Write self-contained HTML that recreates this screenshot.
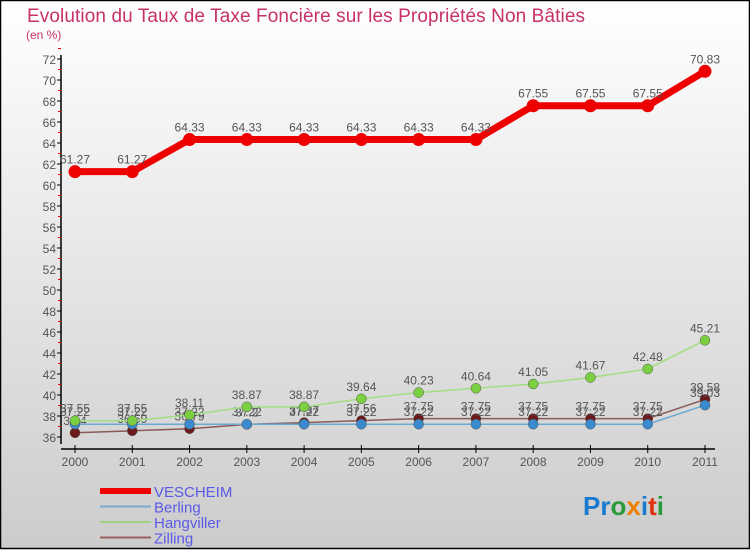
<!DOCTYPE html>
<html><head><meta charset="utf-8"><style>
body{margin:0;width:750px;height:550px;overflow:hidden}
svg{display:block;font-family:"Liberation Sans",sans-serif}
</style></head><body>
<svg id="c" width="750" height="550">
<defs><linearGradient id="bg" x1="0" y1="0" x2="0" y2="1"><stop offset="0" stop-color="#ffffff"/><stop offset="1" stop-color="#cccccc"/></linearGradient></defs>
<rect x="0.5" y="0.5" width="749" height="548" fill="url(#bg)" stroke="#000" stroke-width="1.5"/>
<text x="27" y="22" font-size="19" textLength="558" fill="#c8306a">Evolution du Taux de Taxe Foncière sur les Propriétés Non Bâties</text>
<text x="26" y="39" font-size="12" fill="#c8306a">(en %)</text>
<g id="axes"></g><g id="series"></g><g id="legend"></g>
<text x="583" y="515" font-size="26" font-weight="bold"><tspan fill="#1a7ad0">Pr</tspan><tspan fill="#2a9a3a">o</tspan><tspan fill="#f08000">x</tspan><tspan fill="#1a7ad0">i</tspan><tspan fill="#e03010">t</tspan><tspan fill="#2a9a3a">i</tspan></text>
</svg>
<script>
const years=["2000","2001","2002","2003","2004","2005","2006","2007","2008","2009","2010","2011"];
const vescheim=[61.27,61.27,64.33,64.33,64.33,64.33,64.33,64.33,67.55,67.55,67.55,70.83];
const berling=[37.22,37.22,37.22,37.22,37.22,37.22,37.22,37.22,37.22,37.22,37.22,39.03];
const hangviller=[37.55,37.55,38.11,38.87,38.87,39.64,40.23,40.64,41.05,41.67,42.48,45.21];
const zilling=[36.4,36.59,36.79,37.2,37.37,37.56,37.75,37.75,37.75,37.75,37.75,39.58];
const yTicks=[36,38,40,42,44,46,48,50,52,54,56,58,60,62,64,66,68,70,72];
const NS="http://www.w3.org/2000/svg";
const X=i=>75+i*(705-75)/(years.length-1);
const Y=v=>437-(v-36)*10.5;
function mk(t,a,p){const e=document.createElementNS(NS,t);for(const k in a)e.setAttribute(k,a[k]);p.appendChild(e);return e;}
const ax=document.getElementById('axes');
const ya=mk('line',{x1:61,y1:55,x2:61,y2:444,stroke:'#000','stroke-width':1.5},ax);


const xa=mk('line',{x1:61,y1:449,x2:715,y2:449,stroke:'#000','stroke-width':1.5},ax);


yTicks.forEach(v=>{
 mk('line',{x1:57,y1:Y(v),x2:61,y2:Y(v),stroke:'#000'},ax);
 mk('line',{x1:58,y1:Y(v+1),x2:61,y2:Y(v+1),stroke:'#e00'},ax);
 const t=mk('text',{x:56,y:Y(v)+5,'font-size':12,fill:'#555','text-anchor':'end'},ax);t.textContent=v;
 
 
});
years.forEach((y,i)=>{
 mk('line',{x1:X(i),y1:445,x2:X(i),y2:453,stroke:'#000'},ax);
 const t=mk('text',{x:X(i),y:466,'font-size':12,fill:'#555','text-anchor':'middle'},ax);t.textContent=y;
 
 
});
const S=document.getElementById('series');
const defs=[[zilling,'#6a1a1a','#8a5a5a',1.5,5,'zilling'],[berling,'#3a8ad0','#6aaad0',1.5,5,'berling'],[hangviller,'#7ad040','#a0e080',1.5,5,'hangviller'],[vescheim,'#ee0000','#ee0000',7,6.5,'vescheim']];
defs.forEach(([d,c,lc,w,r,n])=>{
 const g=mk('g',{},S);
 
 
 const p=mk('polyline',{points:d.map((v,i)=>X(i)+','+Y(v)).join(' '),fill:'none',stroke:lc,'stroke-width':w},g);
 
 
 d.forEach((v,i)=>{
  const cc=mk('circle',{cx:X(i),cy:Y(v),r:r,fill:c,stroke:n==='vescheim'?'none':'#555','stroke-width':0.5},g);
  
  
  const t=mk('text',{x:X(i),y:Y(v)-8,'font-size':12,fill:'#555','text-anchor':'middle'},g);t.textContent=v.toFixed(2).replace(/0$/,'');
  
  
 });
});
const L=document.getElementById('legend');
[['VESCHEIM','#ee0000',6],['Berling','#7aaad0',2],['Hangviller','#a0d080',2],['Zilling','#9a6060',2]].forEach(([n,c,w],i)=>{
 const y=491+i*15.5;
 const g=mk('g',{},L);
 
 
 mk('line',{x1:100,y1:y,x2:151,y2:y,stroke:c,'stroke-width':w},g);
 const t=mk('text',{x:154,y:y+6,'font-size':15,fill:'#5a5ae8'},g);t.textContent=n;
});
</script>
</body></html>
